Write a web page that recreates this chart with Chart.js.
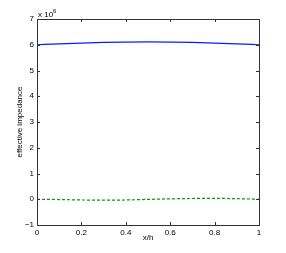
<!DOCTYPE html>
<html><head><meta charset="utf-8">
<script src="https://cdn.jsdelivr.net/npm/chart.js@4/dist/chart.umd.min.js"></script>
<style>html,body{margin:0;padding:0;background:#fff;}#wrap{width:286px;height:253px;position:relative;}</style>
</head><body><div id="wrap"><canvas id="c" width="286" height="253"></canvas></div>
<script>
const xPos = [0,0.1,0.2,0.3,0.4,0.5,0.6,0.7,0.8,0.9,1.0];
const blueVals = [6.00e6,6.035e6,6.065e6,6.09e6,6.105e6,6.11e6,6.105e6,6.09e6,6.065e6,6.035e6,6.00e6];
const greenVals = [0,-0.012e6,-0.028e6,-0.035e6,-0.028e6,-0.005e6,0.015e6,0.03e6,0.035e6,0.022e6,0];
const xTicks = [0,0.2,0.4,0.6,0.8,1];
const yTicks = [-1,0,1,2,3,4,5,6,7];
const FONT = "'Liberation Sans', Arial, sans-serif";

const boxTicks = {
  id:'boxTicks',
  afterDraw(chart){
    const {ctx, chartArea:a, scales} = chart;
    ctx.save();
    ctx.strokeStyle = '#333';
    ctx.lineWidth = 1;
    ctx.strokeRect(Math.round(a.left)+0.5, Math.round(a.top)+0.5, Math.round(a.right-a.left), Math.round(a.bottom-a.top));
    const L = 3;
    ctx.beginPath();
    scales.x.ticks.forEach(t=>{
      const px = Math.round(scales.x.getPixelForValue(t.value))+0.5;
      ctx.moveTo(px,a.bottom); ctx.lineTo(px,a.bottom-L);
      ctx.moveTo(px,a.top); ctx.lineTo(px,a.top+L);
    });
    scales.y.ticks.forEach(t=>{
      const py = Math.round(scales.y.getPixelForValue(t.value))+0.5;
      ctx.moveTo(a.left,py); ctx.lineTo(a.left+L,py);
      ctx.moveTo(a.right,py); ctx.lineTo(a.right-L,py);
    });
    ctx.stroke();
    ctx.fillStyle = '#000';
    ctx.font = "8px " + FONT;
    ctx.textBaseline = 'alphabetic';
    ctx.textAlign = 'left';
    ctx.fillText('x 10', a.left+1, a.top-2);
    ctx.font = "6px " + FONT;
    ctx.fillText('6', a.left+16, a.top-6);
    ctx.restore();
  }
};

new Chart(document.getElementById('c'), {
  type:'line',
  data:{
    datasets:[
      {data: xPos.map((x,i)=>({x, y: blueVals[i]})), borderColor:'#0022ff', borderWidth:1.2, pointRadius:0, cubicInterpolationMode:'monotone', fill:false},
      {data: xPos.map((x,i)=>({x, y: greenVals[i]})), borderColor:'#00a000', borderWidth:1.2, borderDash:[3,2], pointRadius:0, cubicInterpolationMode:'monotone', fill:false}
    ]
  },
  options:{
    responsive:false, animation:false,
    layout:{padding:{top:19,right:27,left:15,bottom:10}},
    plugins:{legend:{display:false}, tooltip:{enabled:false}},
    scales:{
      x:{type:'linear', min:0, max:1,
        afterBuildTicks(s){ s.ticks = xTicks.map(v=>({value:v})); },
        afterFit(s){ s.height = 18; },
        grid:{display:false, drawTicks:false}, border:{display:false},
        ticks:{color:'#000', font:{size:8, family:FONT}, padding:3, maxRotation:0,
          callback:v=>String(v)},
        title:{display:true, text:'x/h', color:'#000', font:{size:8, family:FONT}, padding:{top:0,bottom:0}}
      },
      y:{type:'linear', min:-1e6, max:7e6,
        afterBuildTicks(s){ s.ticks = yTicks.map(v=>({value:v*1e6})); },
        afterFit(s){ s.width = 22; },
        grid:{display:false, drawTicks:false}, border:{display:false},
        ticks:{color:'#000', font:{size:8, family:FONT}, padding:3,
          callback:v=>{ const n=Math.round(v/1e6); return n<0 ? '\u2212'+Math.abs(n) : String(n);} },
        title:{display:true, text:'effective impedance', color:'#000', font:{size:8, family:FONT}, padding:{top:0,bottom:0}}
      }
    }
  },
  plugins:[boxTicks]
});
</script></body></html>
